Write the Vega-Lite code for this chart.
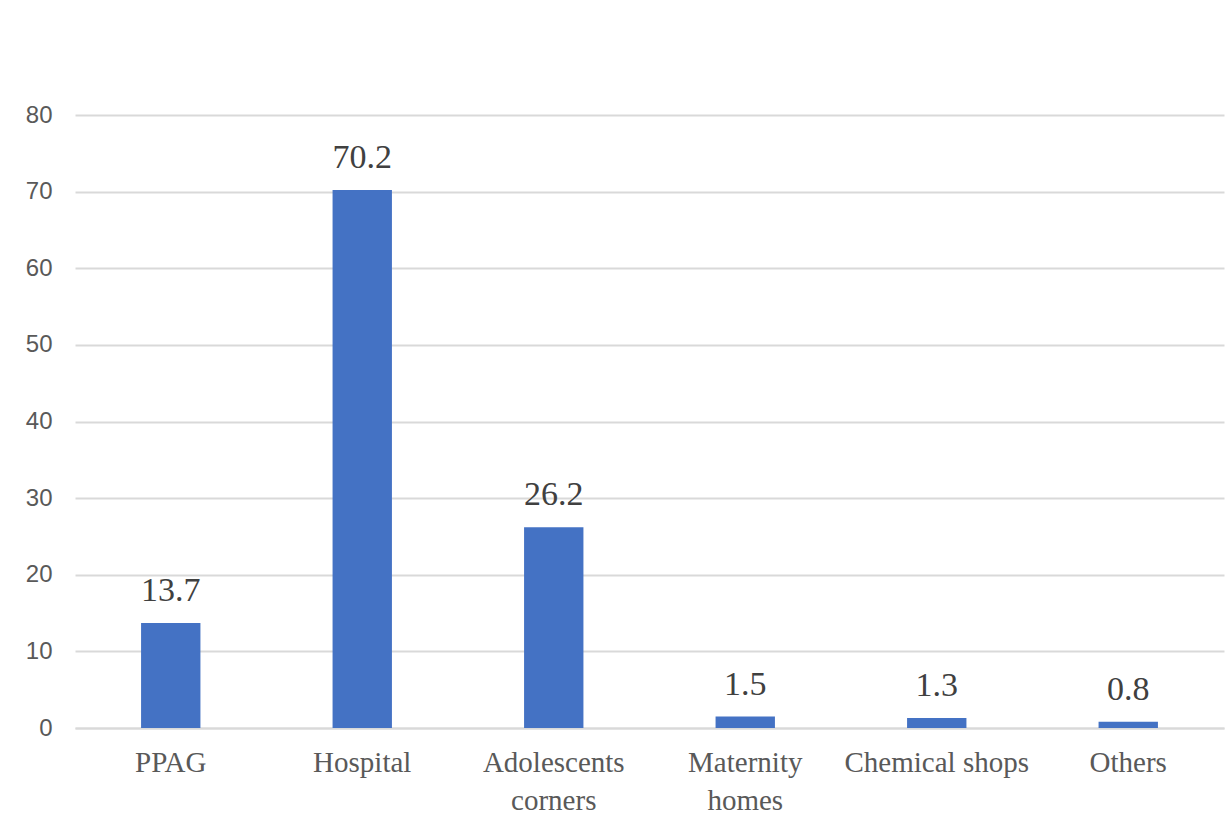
{
  "$schema": "https://vega.github.io/schema/vega-lite/v6.json",
  "width": 1149,
  "height": 613,
  "autosize": {"type": "none"},
  "padding": {"left": 75, "right": 7, "top": 115, "bottom": 100},
  "background": "white",
  "config": {
    "view": {"stroke": null},
    "axis": {"grid": false}
  },
  "data": {
    "values": [
      {"place": "PPAG", "pct": 13.7},
      {"place": "Hospital", "pct": 70.2},
      {"place": "Adolescents corners", "pct": 26.2},
      {"place": "Maternity homes", "pct": 1.5},
      {"place": "Chemical shops", "pct": 1.3},
      {"place": "Others", "pct": 0.8}
    ]
  },
  "encoding": {
    "x": {
      "field": "place",
      "type": "nominal",
      "sort": null,
      "scale": {"paddingInner": 0.69, "paddingOuter": 0.345},
      "axis": {
        "title": null,
        "labelAngle": 0,
        "labelFont": "Liberation Serif",
        "labelFontSize": 29,
        "labelColor": "#595959",
        "labelPadding": 20,
        "labelLineHeight": 38,
        "labelLimit": 400,
        "labelOverlap": false,
        "labelExpr": "datum.label == 'Adolescents corners' ? ['Adolescents', 'corners'] : datum.label == 'Maternity homes' ? ['Maternity', 'homes'] : datum.label",
        "ticks": false,
        "domain": true,
        "domainColor": "#d9d9d9",
        "domainWidth": 2
      }
    },
    "y": {
      "field": "pct",
      "type": "quantitative",
      "scale": {"domain": [0, 80]},
      "axis": {
        "title": null,
        "values": [0, 10, 20, 30, 40, 50, 60, 70, 80],
        "grid": true,
        "gridColor": "#d9d9d9",
        "gridWidth": 2,
        "domain": false,
        "ticks": false,
        "labelFont": "Liberation Sans",
        "labelFontSize": 24,
        "labelColor": "#595959",
        "labelPadding": 23
      }
    }
  },
  "layer": [
    {
      "mark": {"type": "bar", "color": "#4472C4"}
    },
    {
      "mark": {
        "type": "text",
        "baseline": "alphabetic",
        "align": "center",
        "dy": -22,
        "font": "Liberation Serif",
        "fontSize": 34,
        "color": "#404040"
      },
      "encoding": {
        "text": {"field": "pct", "type": "quantitative", "format": ".1f"}
      }
    }
  ]
}
